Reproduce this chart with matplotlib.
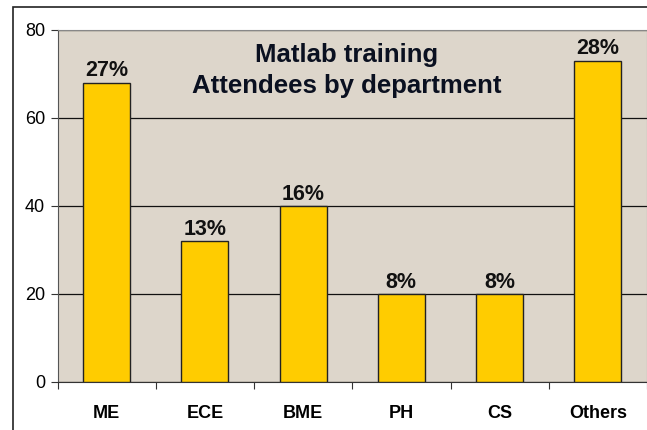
import matplotlib
matplotlib.use("Agg")
import matplotlib.pyplot as plt
from matplotlib.patches import Rectangle
import numpy as np

departments = ["ME", "ECE", "BME", "PH", "CS", "Others"]
attendees = [68, 32, 40, 20, 20, 73]
shares = ["27%", "13%", "16%", "8%", "8%", "28%"]
yticks = [0, 20, 40, 60, 80]
title_lines = ["Matlab training", "Attendees by department"]

plt.rcParams["font.family"] = ["Liberation Sans", "DejaVu Sans"]

fig = plt.figure(figsize=(6.47, 4.30), dpi=100)
ax = fig.add_axes([57.5 / 647, 1 - 382 / 430, 589.5 / 647, 352 / 430])

# outer chart frame (runs off the right and bottom edges)
fig.add_artist(Rectangle((13 / 647, -0.1), 1.2, 1 - 7 / 430 + 0.1,
                         transform=fig.transFigure, fill=False,
                         edgecolor="#222222", linewidth=1.2))

ax.set_facecolor("#ddd6cb")
x = np.arange(len(departments))
ax.bar(x, attendees, width=0.48, color="#ffcc00", edgecolor="#222222",
       linewidth=1.0, zorder=3)
for xi, v, s in zip(x, attendees, shares):
    ax.text(xi, v + 0.3, s, ha="center", va="bottom", fontsize=15.5,
            fontweight="bold", color="#111111", zorder=4)

ax.set_xlim(-0.5, len(departments) - 0.5)
ax.set_ylim(0, 80)
ax.set_yticks(yticks)
ax.set_yticklabels([str(t) for t in yticks], fontsize=13)
ax.yaxis.grid(True, color="#111111", linewidth=0.9, zorder=1)
ax.set_axisbelow(True)

ax.set_xticks(np.arange(len(departments) + 1) - 0.5)
ax.set_xticklabels([])
ax.set_xticks(x, minor=True)
ax.set_xticklabels(departments, minor=True, fontsize=13, fontweight="bold")
ax.tick_params(axis="x", which="minor", length=0, pad=16.5)
ax.tick_params(axis="x", which="major", length=5, direction="out", color="#333333")
ax.tick_params(axis="y", length=5, direction="out", color="#333333", pad=4)

for side in ("top", "right"):
    ax.spines[side].set_color("#888888")
ax.spines["left"].set_color("#555555")
ax.spines["bottom"].set_color("#333333")

for line, y in zip(title_lines, [72.8, 65.75]):
    ax.text(0.49, y, line, transform=ax.get_yaxis_transform(), ha="center",
            va="baseline", fontsize=18.5, fontweight="bold", color="#0a1020",
            zorder=4)

fig.savefig("out.png", dpi=100)
